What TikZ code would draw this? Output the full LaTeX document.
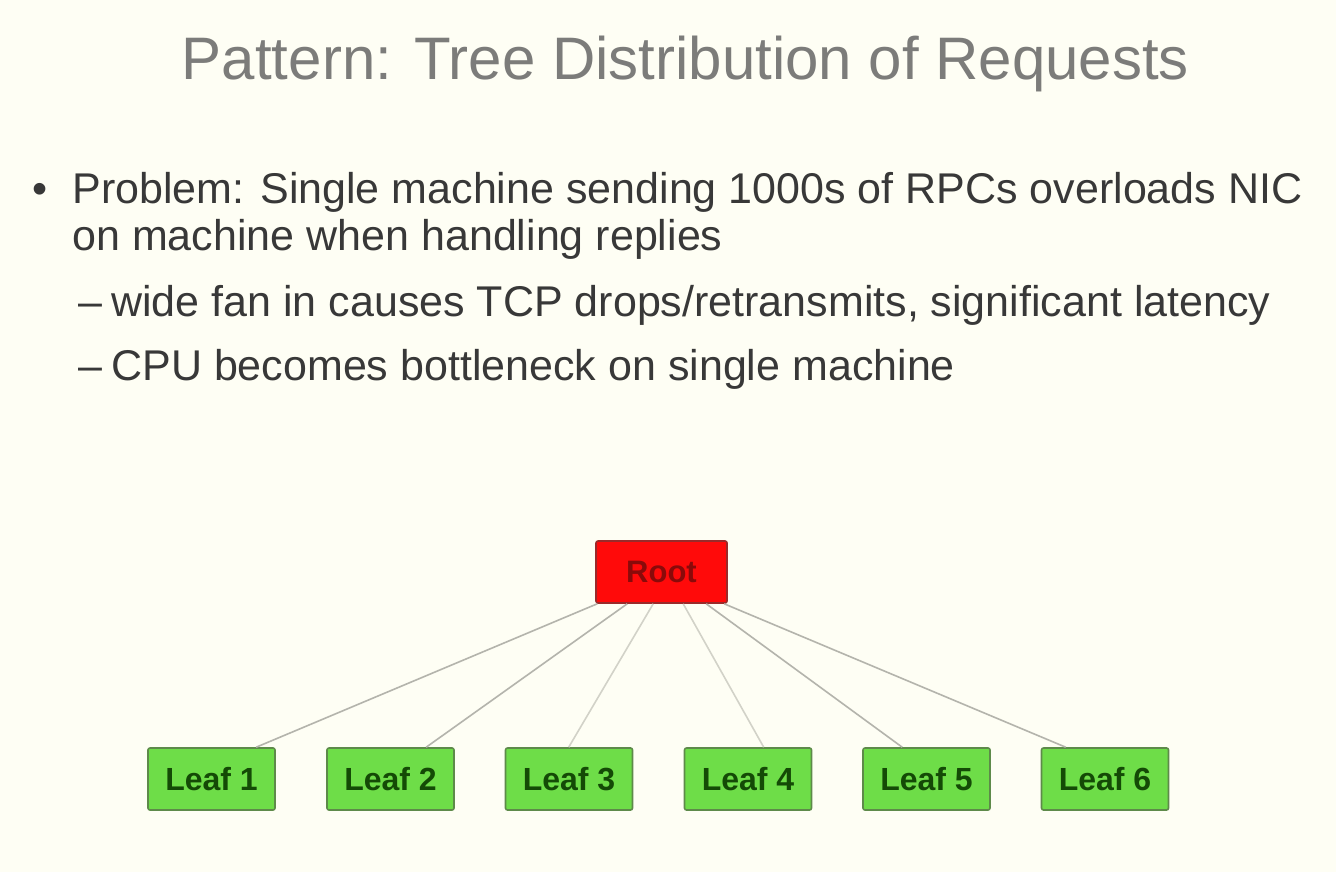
\documentclass[tikz,border=0pt]{standalone}
\usepackage{fontspec}
\setmainfont{Liberation Sans}
\setsansfont{Liberation Sans}
\definecolor{bgc}{HTML}{FEFEF4}
\definecolor{titlec}{HTML}{7C7C7A}
\definecolor{bodyc}{HTML}{383838}
\definecolor{rootfill}{HTML}{FF0A0A}
\definecolor{rootdraw}{HTML}{9A2A2A}
\definecolor{roottext}{HTML}{8A0A0A}
\definecolor{leaffill}{HTML}{6EDD48}
\definecolor{leafdraw}{HTML}{5E8A4A}
\definecolor{leaftext}{HTML}{144A06}
\definecolor{edgec}{HTML}{B4B4AC}
\definecolor{edgelight}{HTML}{D2D2C8}
\tikzset{
  rootbox/.style={draw=rootdraw, fill=rootfill, line width=0.8pt, rounded corners=1pt,
    minimum width=65.5pt, minimum height=31pt, inner sep=0pt,
    font=\fontsize{15.5}{18}\selectfont\bfseries, text=roottext},
  leafbox/.style={draw=leafdraw, fill=leaffill, line width=0.8pt, rounded corners=1pt,
    minimum width=63.5pt, minimum height=31pt, inner sep=0pt,
    font=\fontsize{16}{19}\selectfont\bfseries, text=leaftext},
  edge/.style={draw=edgec, line width=0.8pt},
  edgel/.style={draw=edgelight, line width=0.8pt},
  bodytext/.style={anchor=base west, inner sep=0pt, text=bodyc, font=\fontsize{21.5}{26}\selectfont},
}
\begin{document}
\begin{tikzpicture}[x=0.5pt, y=-0.5pt]
\fill[bgc] (0,0) rectangle (1336,872);
\useasboundingbox (0,0) rectangle (1336,872);
\node[anchor=base, inner sep=0pt, text=titlec, font=\fontsize{30}{36}\selectfont] (title) at (685.5,80) {Pattern: Tree Distribution of Requests};
\node[bodytext, anchor=base] (dot) at (40,203) {•};
\node[bodytext] (l1) at (72,203) {Problem: Single machine sending 1000s of RPCs overloads NIC};
\node[bodytext] (l2) at (72,250) {on machine when handling replies};
\node[bodytext] (l3) at (78,316) {–\hspace{4.5pt}wide fan in causes TCP drops/retransmits, significant latency};
\node[bodytext] (l4) at (78,380) {–\hspace{4.5pt}CPU becomes bottleneck on single machine};
\node[rootbox] (root) at (661.5,572) {Root};
\node[leafbox] (leaf1) at (211.5,779) {Leaf 1};
\node[leafbox] (leaf2) at (390.5,779) {Leaf 2};
\node[leafbox] (leaf3) at (569,779) {Leaf 3};
\node[leafbox] (leaf4) at (748,779) {Leaf 4};
\node[leafbox] (leaf5) at (926.5,779) {Leaf 5};
\node[leafbox] (leaf6) at (1105,779) {Leaf 6};
\draw[edge] ([xshift=1pt]root.south west) -- ([xshift=54.5pt]leaf1.north west);
\draw[edge] ([xshift=16pt]root.south west) -- ([xshift=50pt]leaf2.north west);
\draw[edgel] ([xshift=29pt]root.south west) -- ([xshift=32pt]leaf3.north west);
\draw[edgel] ([xshift=44pt]root.south west) -- ([xshift=40pt]leaf4.north west);
\draw[edge] ([xshift=55.5pt]root.south west) -- ([xshift=20pt]leaf5.north west);
\draw[edge] ([xshift=64.5pt]root.south west) -- ([xshift=12.5pt]leaf6.north west);
\end{tikzpicture}
\end{document}
